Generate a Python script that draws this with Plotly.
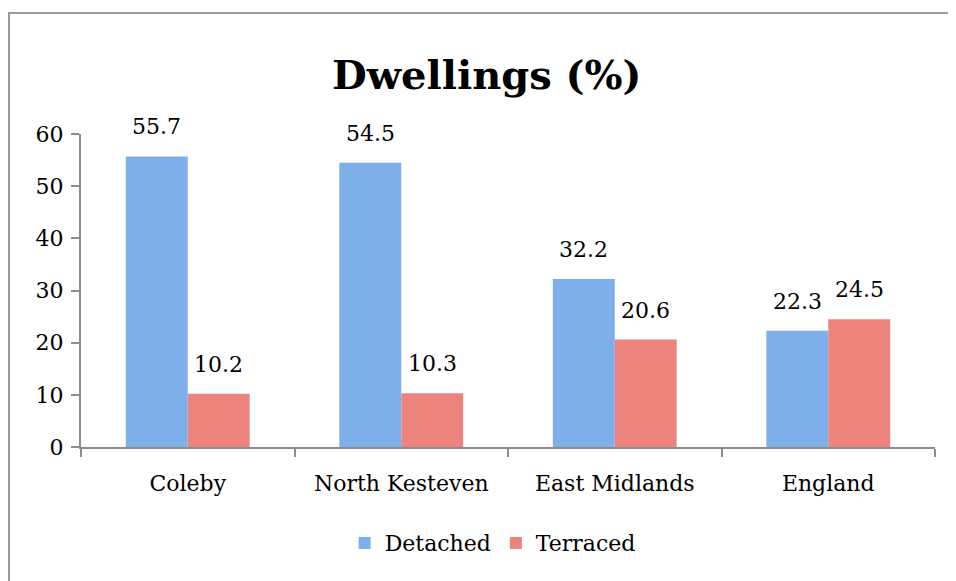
import plotly.graph_objects as go

categories = ["Coleby", "North Kesteven", "East Midlands", "England"]
detached = [55.7, 54.5, 32.2, 22.3]
terraced = [10.2, 10.3, 20.6, 24.5]
y_ticks = [0, 10, 20, 30, 40, 50, 60]

FONT = "DejaVu Serif"
BLUE = "#7DAFEA"
RED = "#EC837D"

fig = go.Figure()
fig.add_trace(go.Bar(name="Detached", x=categories, y=detached, marker=dict(color=BLUE, line=dict(width=0))))
fig.add_trace(go.Bar(name="Terraced", x=categories, y=terraced, marker=dict(color=RED, line=dict(width=0))))

for series, shift in ((detached, -31), (terraced, 31)):
    for c, v in zip(categories, series):
        fig.add_annotation(x=c, y=v, text=f"{v:.1f}", showarrow=False, xshift=shift, yshift=15,
                           yanchor="bottom", font=dict(family=FONT, size=22, color="#000"))

# outer chart border (left/top visible, right/bottom run off the canvas)
fig.add_shape(type="rect", xref="paper", yref="paper", x0=-0.0843, x1=1.2, y0=1.3866, y1=-1.0,
              line=dict(color="#9a9a9a", width=2), fillcolor="rgba(0,0,0,0)", layer="below")

fig.update_layout(
    width=948, height=573,
    margin=dict(l=73, r=21, t=126, b=134),
    paper_bgcolor="white", plot_bgcolor="white",
    barmode="group", bargap=0.42, bargroupgap=0,
    title=dict(text="<b>Dwellings (%)</b>", x=0.505, xanchor="center", xref="container",
               y=0.883, yref="container", yanchor="middle",
               font=dict(family=FONT, size=40, color="#000")),
    font=dict(family=FONT, size=22, color="#000"),
    showlegend=True,
    legend=dict(orientation="h", x=0.482, xanchor="center", y=-0.307, yanchor="middle",
                font=dict(family=FONT, size=22, color="#000"), itemwidth=30, traceorder="normal"),
    xaxis=dict(showline=True, linecolor="#8c8c8c", linewidth=2, ticks="outside", tickson="boundaries",
               ticklen=8, tickcolor="#8c8c8c", tickwidth=2, showgrid=False, ticklabelstandoff=16,
               tickfont=dict(family=FONT, size=22, color="#000")),
    yaxis=dict(range=[0, 60], tickvals=y_ticks, showline=True, linecolor="#8c8c8c", linewidth=2,
               ticks="outside", ticklen=8, tickcolor="#8c8c8c", tickwidth=2, showgrid=False,
               zeroline=False, ticklabelstandoff=3, tickfont=dict(family=FONT, size=22, color="#000")),
)
fig.write_html("out.html")
